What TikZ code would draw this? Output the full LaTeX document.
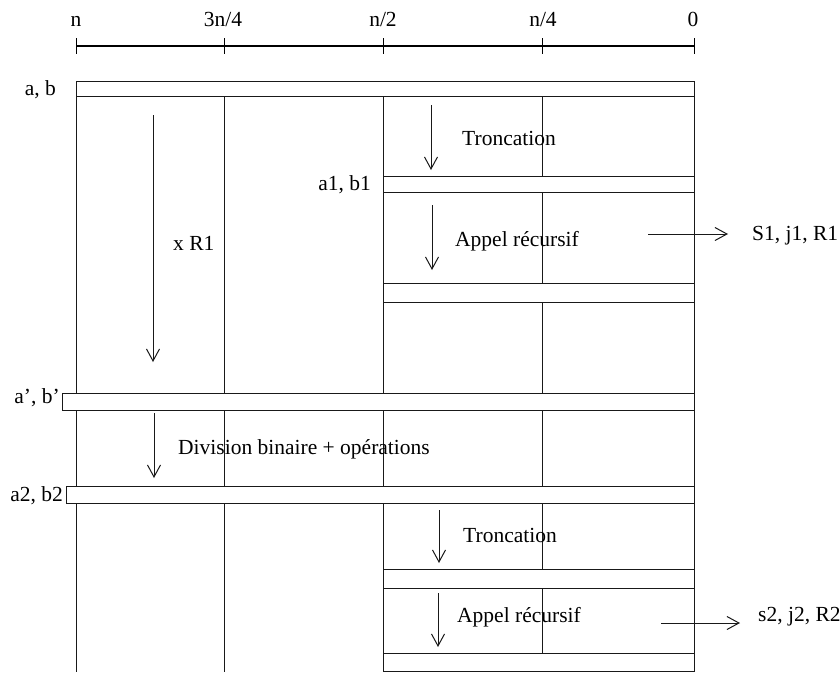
\documentclass[tikz,border=0pt]{standalone}
\usepackage{fontspec}
\setmainfont{Liberation Serif}
\usetikzlibrary{arrows.meta}
\begin{document}
\begin{tikzpicture}[x=1pt,y=-1pt,
  gridline/.style={line width=1pt,draw=black!90},
  bar/.style={line width=1pt,draw=black!90,fill=white},
  axisline/.style={line width=2pt},
  tick/.style={line width=1pt},
  flow/.style={line width=1pt,draw=black!90,-{Straight Barb[length=12pt,width=13pt,line width=1pt]}},
  lbl/.style={inner sep=0pt,font=\fontsize{21.5}{25}\selectfont}
]
\useasboundingbox[fill=white] (0,0) rectangle (840,672);

% axis
\coordinate (A0) at (76,46);
\coordinate (A1) at (224,46);
\coordinate (A2) at (383,46);
\coordinate (A3) at (542,46);
\coordinate (A4) at (694,46);
\draw[axisline] (A0) -- (A4);
\foreach \p in {A0,A1,A2,A3,A4}
  \draw[tick] ([yshift=8pt]\p) -- ([yshift=-8pt]\p);
\node[lbl,anchor=base] (ln)   at (76,26)  {n};
\node[lbl,anchor=base] (l3n4) at (223,26) {3n/4};
\node[lbl,anchor=base] (ln2)  at (383,26) {n/2};
\node[lbl,anchor=base] (ln4)  at (543,26) {n/4};
\node[lbl,anchor=base] (l0)   at (693,26) {0};

% vertical grid lines
\draw[gridline] (76,81) -- (76,672);
\draw[gridline] (694,81) -- (694,672);
\draw[gridline] (224,96) -- (224,672);
\draw[gridline] (383,96) -- (383,672);
\draw[gridline] (542,96) -- (542,672);

% bars
\draw[bar] (76,81) rectangle (694,96);
\draw[bar] (383,176) rectangle (694,192);
\draw[bar] (383,283) rectangle (694,302);
\draw[bar] (62,393) rectangle (694,410);
\draw[bar] (66,486) rectangle (694,503);
\draw[bar] (383,569) rectangle (694,588);
\draw[bar] (383,653) rectangle (694,671);

% bar labels
\node[lbl,anchor=base east] (lab)  at (56,95)   {a, b};
\node[lbl,anchor=base east] (la1)  at (371,190) {a1, b1};
\node[lbl,anchor=base east] (lap)  at (60,403)  {a', b'};
\node[lbl,anchor=base east] (la2)  at (63,501)  {a2, b2};

% arrows
\coordinate (r1s) at (153,115); \coordinate (r1e) at (153,362);
\coordinate (t1s) at (431,105); \coordinate (t1e) at (431,170);
\coordinate (p1s) at (432,205); \coordinate (p1e) at (432,270);
\coordinate (o1s) at (648,234); \coordinate (o1e) at (728,234);
\coordinate (ds)  at (154,413); \coordinate (de)  at (154,478);
\coordinate (t2s) at (439,510); \coordinate (t2e) at (439,563);
\coordinate (p2s) at (438,593); \coordinate (p2e) at (438,647);
\coordinate (o2s) at (661,623); \coordinate (o2e) at (740,623);
\draw[flow] (r1s) -- (r1e);
\draw[flow] (t1s) -- (t1e);
\draw[flow] (p1s) -- (p1e);
\draw[flow] (o1s) -- (o1e);
\draw[flow] (ds) -- (de);
\draw[flow] (t2s) -- (t2e);
\draw[flow] (p2s) -- (p2e);
\draw[flow] (o2s) -- (o2e);

% text labels
\node[lbl,anchor=base west] (xr1)  at (173,250) {x R1};
\node[lbl,anchor=base west] (tr1)  at (462,145) {Troncation};
\node[lbl,anchor=base west] (ap1)  at (455,246) {Appel récursif};
\node[lbl,anchor=base west] (out1) at (752,240) {S1, j1, R1};
\node[lbl,anchor=base west] (div)  at (178,454) {Division binaire + opérations};
\node[lbl,anchor=base west] (tr2)  at (463,542) {Troncation};
\node[lbl,anchor=base west] (ap2)  at (457,622) {Appel récursif};
\node[lbl,anchor=base west] (out2) at (758,621) {s2, j2, R2};
\end{tikzpicture}
\end{document}
